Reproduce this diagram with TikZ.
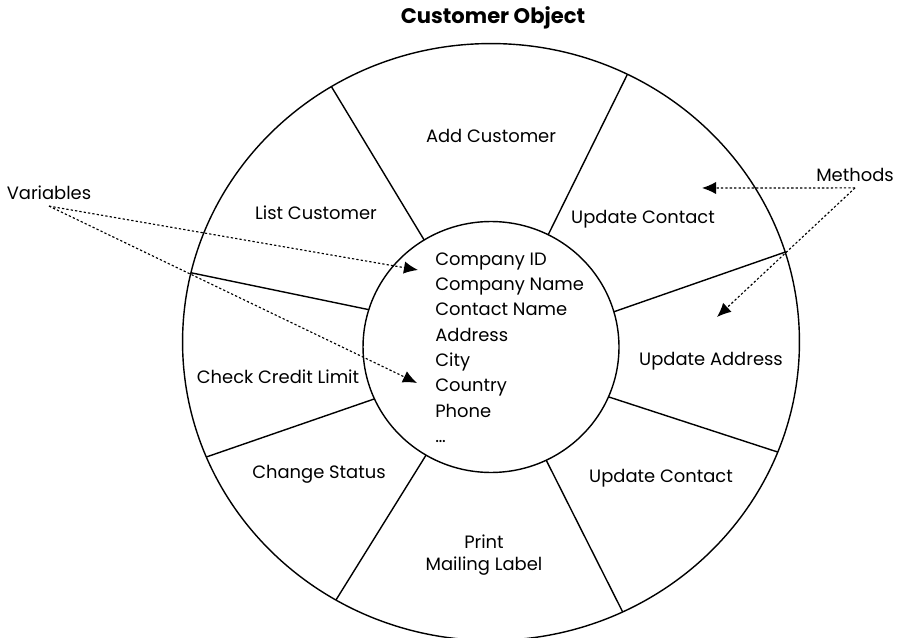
\documentclass[tikz,border=0pt]{standalone}
\usepackage{fontspec}
\setmainfont{Poppins}
\usetikzlibrary{arrows.meta,shapes.geometric}

\begin{document}
\begin{tikzpicture}[x=0.02cm, y=-0.02cm,
    ring/.style={ellipse, draw, line width=0.8pt, inner sep=0pt, outer sep=0pt},
    spoke/.style={line width=0.8pt},
    part/.style={font=\fontsize{10.2}{12.5}\selectfont},
    pointer/.style={dash pattern=on 1.3pt off 1.2pt, line width=0.65pt,
      -{Latex[length=8pt,width=7pt]}}]
    \useasboundingbox (0,0) rectangle (898,638);
    \node(title)[font=\bfseries\fontsize{12}{14}\selectfont] at (493,18) {Customer Object};
    \begin{scope}
      % Object boundary and its data core
      \node(outer)[ring, minimum width=12.34cm, minimum height=11.94cm] at (491,342) {};
      \node(inner)[ring, minimum width=5.12cm, minimum height=5.02cm] at (491,347) {};
      % Dividers between the methods
      \foreach \i / \o in {122/122, 63/63, 16/17, 163/167, 204/202, -23/-21, 239/239, -64/-64}
        \draw[spoke] (inner.\i) -- (outer.\o);
    \end{scope}
    \begin{scope}
      % Methods
      \node(add)       [part] at (491,136) {Add Customer};
      \node(list)      [part] at (316,213) {List Customer};
      \node(upcontact) [part] at (643,219) {Update Contact};
      \node(upaddress) [part] at (711,361) {Update Address};
      \node(credit)    [part] at (278,377) {Check Credit Limit};
      \node(status)    [part] at (319,474) {Change Status};
      \node(upcontact2)[part] at (661,478) {Update Contact};
      \node(print)     [part, align=center] at (484,555) {Print\\Mailing Label};
    \end{scope}
    \begin{scope}
      % Variables
      \node(fields)[part, align=left, anchor=north west, inner sep=0pt,
        font=\fontsize{10.2}{14.45}\selectfont] at (435,252)
        {Company ID\\Company Name\\Contact Name\\Address\\City\\Country\\Phone\\\dots};
    \end{scope}
    % Callouts
    \node(vars)   [part] at (49,193)  {Variables};
    \node(methods)[part] at (855,175) {Methods};
    \coordinate(idtip)      at (418,270);
    \coordinate(countrytip) at (417,383);
    \coordinate(contacttip) at (702,188);
    \coordinate(addresstip) at (717,317);
    \path (vars.south)    edge[pointer] (idtip);
    \path (vars.south)    edge[pointer] (countrytip);
    \path (methods.south) edge[pointer] (contacttip);
    \path (methods.south) edge[pointer] (addresstip);
\end{tikzpicture}
\end{document}
